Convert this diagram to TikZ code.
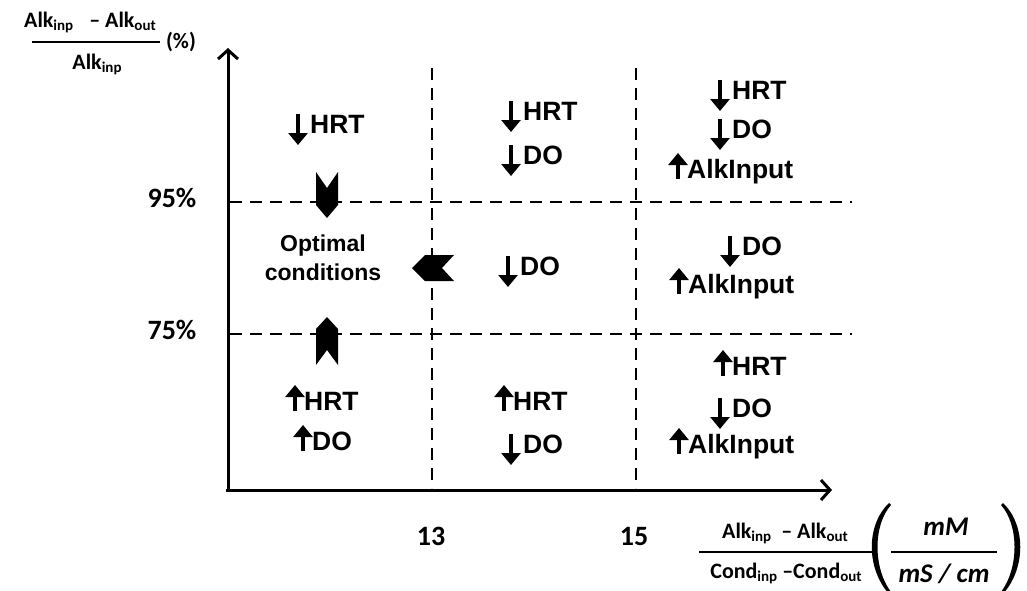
\documentclass[tikz,border=0pt]{standalone}
\usepackage{fontspec}
\setmainfont{Liberation Sans}
\newfontfamily\calib{Carlito}
\usetikzlibrary{arrows.meta,calc}
\newcommand\sbs[1]{\raisebox{-3pt}{\fontsize{15}{18}\selectfont #1}}
\tikzset{
  axisline/.style={line width=3pt,-{Straight Barb[length=9pt,width=20pt]}},
  gridline/.style={line width=2.2pt,dash pattern=on 12pt off 8pt},
  lbl/.style={font=\fontsize{26.5}{30}\selectfont\bfseries, inner sep=0pt},
  num/.style={font=\calib\fontsize{28}{32}\selectfont\bfseries, inner sep=0pt},
  smalltxt/.style={font=\calib\fontsize{22}{26}\selectfont\bfseries, inner sep=0pt},
  unittxt/.style={font=\calib\fontsize{27}{32}\selectfont\bfseries\itshape, inner sep=0pt},
  sym/.style={line width=4.2pt,-{Triangle[length=12pt,width=19pt]}},
  chev/.style={fill=black},
  fracline/.style={line width=2pt},
}
\newcommand\dnitem[4]{%
  \node[lbl,anchor=base west] (#1) at (#2,#3) {#4};
  \draw[sym] ($(#1.base west)+(-12,-19)$) -- ($(#1.base west)+(-12,12)$);}
\newcommand\upitem[4]{%
  \node[lbl,anchor=base west] (#1) at (#2,#3) {#4};
  \draw[sym] ($(#1.base west)+(-9,1)$) -- ($(#1.base west)+(-9,-25)$);}
\begin{document}
\begin{tikzpicture}[x=1pt,y=-1pt]
\useasboundingbox (0,0) rectangle (1027,590);
% axes
\coordinate (O) at (228,490);
\coordinate (ytip) at (228,48);
\coordinate (xstart) at (226,490);
\coordinate (xtip) at (832,490);
\draw[axisline] (O) -- (ytip);
\draw[axisline] (xstart) -- (xtip);
% grid
\coordinate (v1t) at (432,68); \coordinate (v1b) at (432,488);
\coordinate (v2t) at (636,68); \coordinate (v2b) at (636,488);
\coordinate (h1l) at (230,202); \coordinate (h1r) at (852,202);
\coordinate (h2l) at (230,334); \coordinate (h2r) at (852,334);
\draw[gridline] (v1t) -- (v1b);
\draw[gridline] (v2t) -- (v2b);
\draw[gridline] (h1l) -- (h1r);
\draw[gridline] (h2l) -- (h2r);
% tick labels
\node[num] (p95) at (172,198) {95\%};
\node[num] (p75) at (172,330) {75\%};
\node[num] (t13) at (431,536) {13};
\node[num] (t15) at (634,536) {15};
% y label
\node[smalltxt] (yn) at (90,22) {Alk\sbs{inp}\hspace{16pt}– Alk\sbs{out}};
\coordinate (yl1) at (32,42); \coordinate (yl2) at (160,42);
\draw[fracline] (yl1) -- (yl2);
\node[smalltxt] (yd) at (97,64) {Alk\sbs{inp}};
\node[smalltxt] (pc) at (181,42) {(\%)};
% x label
\node[smalltxt] (xn) at (785,533) {Alk\sbs{inp}\hspace{10pt}– Alk\sbs{out}};
\coordinate (xl1) at (699,552); \coordinate (xl2) at (872,552);
\draw[fracline] (xl1) -- (xl2);
\node[smalltxt] (xd) at (786,573) {Cond\sbs{inp}\hspace{5pt}–Cond\sbs{out}};
\node[unittxt] (mm) at (946,527) {mM};
\node[unittxt] (ms) at (944,574) {mS / cm};
\coordinate (ul1) at (891,552); \coordinate (ul2) at (997,552);
\draw[fracline] (ul1) -- (ul2);
\fill (889,503) .. controls (866,525) and (866,568) .. (889,594) -- (891,592) .. controls (873,568) and (873,525) .. (891,505) -- cycle;
\fill (1003,503) .. controls (1026,525) and (1026,568) .. (1003,594) -- (1001,592) .. controls (1019,568) and (1019,525) .. (1001,505) -- cycle;
% chevrons
\fill[chev] (316,172) -- (327,188) -- (338,172) -- (338,205) -- (327,218) -- (316,205) -- cycle;
\fill[chev] (316,365) -- (327,350) -- (338,365) -- (338,329) -- (327,317) -- (316,329) -- cycle;
\fill[chev] (412,268) -- (425,255) -- (454,255) -- (442,268) -- (454,281) -- (425,281) -- cycle;
% cell texts
\node[font=\fontsize{23}{29}\selectfont\bfseries, align=center, inner sep=0pt] (opt) at (323,258) {Optimal\\conditions};
\dnitem{a1}{310}{133}{HRT}
\dnitem{b1}{523}{120}{HRT}
\dnitem{b2}{523}{164}{DO}
\dnitem{c1}{732}{99}{HRT}
\dnitem{c2}{732}{138}{DO}
\upitem{c3}{687}{178}{AlkInput}
\dnitem{d1}{520}{275}{DO}
\dnitem{e1}{742}{255}{DO}
\upitem{e2}{688}{293}{AlkInput}
\upitem{f1}{304}{410}{HRT}
\upitem{f2}{312}{450}{DO}
\upitem{g1}{513}{410}{HRT}
\dnitem{g2}{523}{453}{DO}
\upitem{h1}{732}{375}{HRT}
\dnitem{h2}{732}{417}{DO}
\upitem{h3}{688}{453}{AlkInput}
\end{tikzpicture}
\end{document}
